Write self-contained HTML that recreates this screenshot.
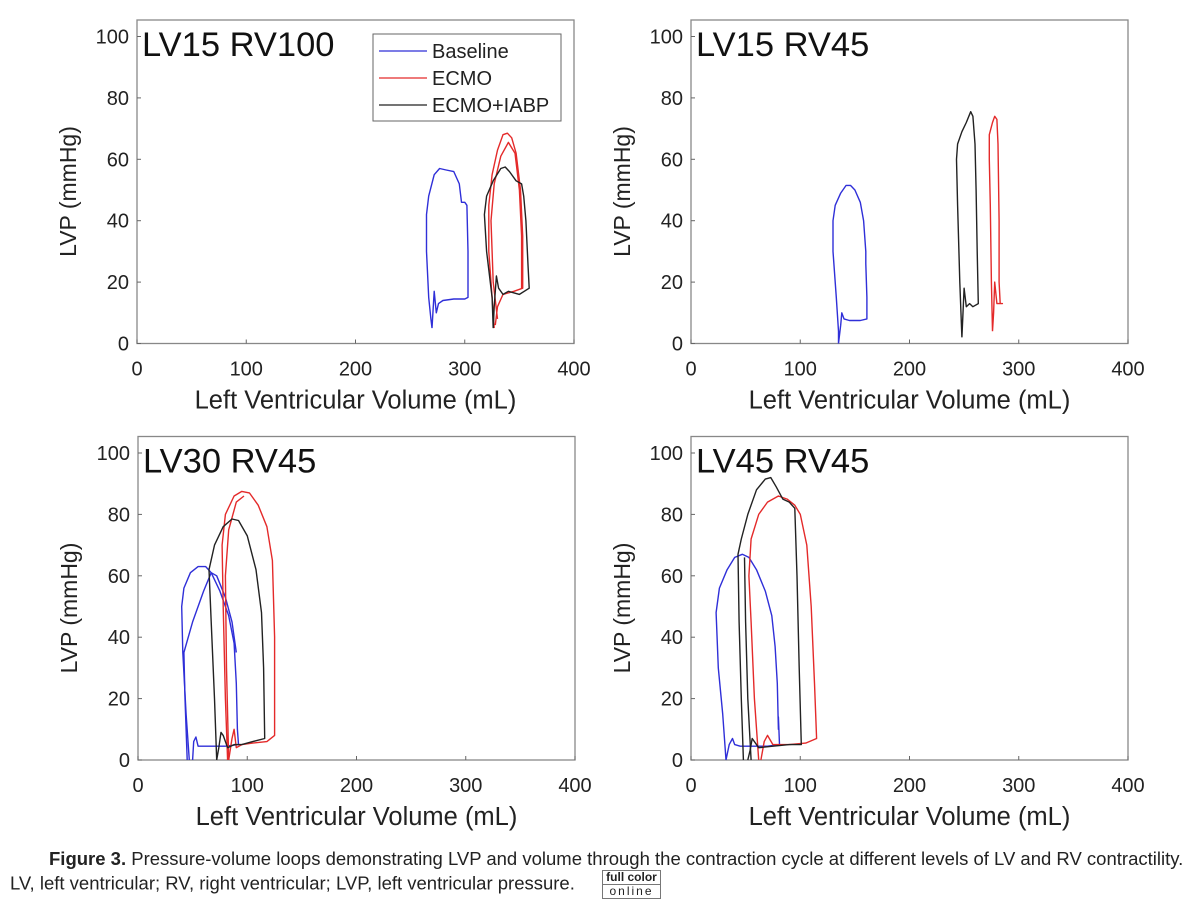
<!DOCTYPE html>
<html><head><meta charset="utf-8"><style>
body{margin:0;background:#fff;width:1200px;height:912px;overflow:hidden;font-family:"Liberation Sans",sans-serif}
svg text{font-family:"Liberation Sans",sans-serif}
</style></head><body>
<svg id="fig" width="1200" height="912" viewBox="0 0 1200 912" xmlns="http://www.w3.org/2000/svg"></svg>
<div style="position:absolute;left:10px;top:847px;width:1190px;font-size:18.5px;color:#222;line-height:23px;white-space:nowrap;">
<span style="padding-left:39px"><b>Figure 3.</b> Pressure-volume loops demonstrating LVP and volume through the contraction cycle at different levels of LV and RV contractility.</span><br>LV, left ventricular; RV, right ventricular; LVP, left ventricular pressure.
<span style="display:inline-block;vertical-align:middle;margin-left:22px;border:1px solid #777;font-size:12px;line-height:13px;text-align:center;width:57px"><b style="display:block;border-bottom:1px solid #777">full color</b><span style="letter-spacing:2px">online</span></span>
</div>
<script>
// ---- data arrays: [volume mL, pressure mmHg] ----
const xTicks=[0,100,200,300,400];
const yTicks=[0,20,40,60,80,100];
const seriesNames=["Baseline","ECMO","ECMO+IABP"];
const seriesColors=["#2f2fd8","#e42a2a","#222"];
const tlBaseline=[[270,5],[272,17],[274,10],[276,13],[280,14],[290,14.5],[300,14.5],[303,15],[303,30],[302,45],[300,46],[297,46],[295,52],[290,56],[283,56.5],[277,57],[272,55],[267,48],[265,42],[265,30],[267,15],[269,8],[270,5]];
const tlEcmo=[[327,5],[325,15],[322,30],[322,45],[325,55],[330,63],[335,68],[339,68.5],[343,67],[347,62],[351,50],[353,35],[353,18],[345,17],[335,16],[330,12],[328,6]];
const tlEcmo2=[[330,8],[326,20],[324,40],[327,52],[333,61],[340,65.5],[346,62],[350,50],[352,35],[352,18]];
const tlIabp=[[326,5],[325,15],[320,30],[318,42],[320,48],[326,53],[333,57],[337,57.5],[341,56],[347,53],[352,52],[354,48],[356,40],[358,25],[359,18],[350,16],[340,17],[335,16],[331,18],[329,22],[327,12],[326,5]];
const trBaseline=[[135,0],[135,4],[133,15],[130,30],[130,40],[132,45],[137,49],[142,51.5],[146,51.5],[150,50],[155,46],[158,40],[160,30],[160,26],[161,15],[161,8],[155,7.5],[145,7.5],[140,8],[138,10],[137,6],[135,0]];
const trEcmo=[[276,4],[275,20],[274,45],[273,60],[273,68],[276,72],[278,74],[280,73],[281,65],[282,40],[282,20],[283,13],[285,13],[280,13],[278,20],[277,10],[276,4]];
const trIabp=[[248,2],[246,20],[244,45],[243,60],[244,65],[248,69],[252,72],[256,75.5],[258,74],[260,65],[261,50],[262,30],[263,13],[258,12],[255,13],[252,12],[250,18],[249,10],[248,2]];
const blBaseline=[[47,0],[44,15],[41,35],[40,50],[42,56],[48,61],[55,63],[62,63],[67,61],[75,55],[83,47],[88,38],[90,25],[91,10],[92,5],[80,4.5],[65,4.5],[55,4.5],[53,7.5],[51,6],[50,0]];
const blBaseline2=[[45,0],[43,20],[42,35],[50,45],[60,55],[67,61],[72,60],[80,53],[86,45],[90,35]];
const blEcmo=[[82,0],[80,20],[78,50],[77,70],[80,80],[88,86],[95,87.5],[102,87],[110,83],[118,76],[123,65],[125,40],[125,8],[118,6],[105,5.5],[95,5],[90,4],[88,10],[86,7],[83,0]];
const blEcmo2=[[83,0],[81,30],[80,60],[83,75],[90,84],[97,86]];
const blIabp=[[72,0],[70,20],[67,45],[65,62],[70,70],[78,76],[86,78.5],[92,78],[100,73],[108,62],[113,48],[115,30],[116,7],[105,6],[95,5],[88,5],[82,4],[78,8],[76,9],[74,4],[72,0]];
const brBaseline=[[32,0],[29,15],[25,30],[23,48],[26,56],[33,62],[40,66],[47,67],[53,66],[60,62],[68,55],[74,47],[77,37],[79,25],[80,10],[80,14],[81,5],[70,4.5],[55,4.5],[45,4.5],[40,5],[38,7],[35,5],[32,0]];
const brEcmo=[[62,0],[58,20],[55,45],[53,60],[55,72],[62,80],[70,84],[80,86],[88,85],[95,83],[100,80],[106,70],[110,50],[113,25],[115,7],[105,5.5],[90,5],[75,5],[70,8],[67,6],[64,0]];
const brIabp=[[48,0],[46,20],[44,45],[43,67],[46,72],[52,80],[60,88],[68,91.5],[73,92],[78,89],[84,85],[90,84],[95,82],[97,60],[99,30],[101,5],[90,5],[75,4.5],[62,4],[56,7],[54,3],[52,0]];
const brIabp2=[[55,0],[52,20],[50,45],[49,66]];
const panelTitles=["LV15 RV100","LV15 RV45","LV30 RV45","LV45 RV45"];

const NS="http://www.w3.org/2000/svg";
const svg=document.getElementById("fig");
function mk(tag,attrs,parent){const e=document.createElementNS(NS,tag);for(const k in attrs)e.setAttribute(k,attrs[k]);(parent||svg).appendChild(e);return e;}

const panels=[
 {ox:137,oy:343.5,title:panelTitles[0],name:"panel-lv15-rv100",legend:true,series:[[tlBaseline,0],[tlEcmo,1],[tlEcmo2,1],[tlIabp,2]]},
 {ox:691,oy:343.5,title:panelTitles[1],name:"panel-lv15-rv45",series:[[trBaseline,0],[trEcmo,1],[trIabp,2]]},
 {ox:138,oy:760,title:panelTitles[2],name:"panel-lv30-rv45",series:[[blBaseline,0],[blBaseline2,0],[blEcmo,1],[blEcmo2,1],[blIabp,2]]},
 {ox:691,oy:760,title:panelTitles[3],name:"panel-lv45-rv45",series:[[brBaseline,0],[brEcmo,1],[brIabp,2],[brIabp2,2]]}
];
const W=437,PX=W/400,PY=3.07,H=323.5;
panels.forEach(p=>{
 const g=mk("g",{});
 
 
 const xs=v=>p.ox+v*PX, ys=v=>p.oy-v*PY;
 const box=mk("rect",{x:p.ox,y:p.oy-H,width:W,height:H,fill:"#fff",stroke:"#888","stroke-width":1.3},g);
 
 
 xTicks.forEach(t=>{
  mk("line",{x1:xs(t),x2:xs(t),y1:p.oy,y2:p.oy-4,stroke:"#666"},g);
  const tx=mk("text",{x:xs(t),y:p.oy+32,"text-anchor":"middle","font-size":20,fill:"#222"},g);
  tx.textContent=t;
  
  
 });
 yTicks.forEach(t=>{
  mk("line",{x1:p.ox,x2:p.ox+4,y1:ys(t),y2:ys(t),stroke:"#666"},g);
  const ty=mk("text",{x:p.ox-8,y:ys(t)+7,"text-anchor":"end","font-size":20,fill:"#222"},g);
  ty.textContent=t;
  
  
 });
 const xl=mk("text",{x:p.ox+W/2,y:p.oy+65,"text-anchor":"middle","font-size":25.5,fill:"#222"},g);
 xl.textContent="Left Ventricular Volume (mL)";
 
 
 const yl=mk("text",{x:0,y:0,"text-anchor":"middle","font-size":23,fill:"#222",transform:`translate(${p.ox-61},${p.oy-152}) rotate(-90)`},g);
 yl.textContent="LVP (mmHg)";
 
 
 const tt=mk("text",{x:p.ox+5,y:p.oy-H+36,"font-size":34.5,fill:"#111"},g);
 tt.textContent=p.title;
 
 
 p.series.forEach(([pts,si])=>{
  const d=pts.map((q,i)=>(i?"L":"M")+xs(q[0]).toFixed(1)+","+ys(q[1]).toFixed(1)).join(" ");
  const path=mk("path",{d:d,fill:"none",stroke:seriesColors[si],"stroke-width":1.4,"stroke-linejoin":"round"},g);
  
  
 });
 if(p.legend){
  const lg=mk("g",{},g);
  
  
  mk("rect",{x:373,y:34,width:188,height:87,fill:"#fff",stroke:"#666","stroke-width":1},lg);
  seriesNames.forEach((n,i)=>{
   const y=51+i*27;
   mk("line",{x1:379,x2:427,y1:y,y2:y,stroke:seriesColors[i],"stroke-width":1.3},lg);
   const lt=mk("text",{x:432,y:y+7,"font-size":20,fill:"#222"},lg);
   lt.textContent=n;
   
   
  });
 }
});
</script>
</body></html>
